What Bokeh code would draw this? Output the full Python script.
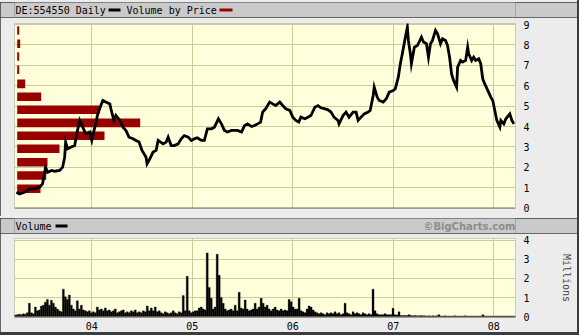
import numpy as np
from bokeh.plotting import figure
from bokeh.models import Range1d, FixedTicker, Span, Spacer, Label
from bokeh.layouts import column
from bokeh.embed import file_html
from bokeh.resources import INLINE

# ---------------- data ----------------
price_year = [2003.25, 2003.28, 2003.33, 2003.38, 2003.43, 2003.48, 2003.51, 2003.54, 2003.56, 2003.60,
              2003.63, 2003.68, 2003.71, 2003.73, 2003.74, 2003.76, 2003.79, 2003.83, 2003.85, 2003.88,
              2003.91, 2003.94, 2003.98, 2004.00, 2004.03, 2004.06, 2004.09, 2004.11, 2004.14, 2004.18,
              2004.19, 2004.22, 2004.24, 2004.28, 2004.31, 2004.34, 2004.37, 2004.41, 2004.44, 2004.47,
              2004.50, 2004.54, 2004.55, 2004.57, 2004.61, 2004.64, 2004.66, 2004.71, 2004.74, 2004.76,
              2004.79, 2004.82, 2004.86, 2004.89, 2004.92, 2004.96, 2004.99, 2005.02, 2005.05, 2005.09,
              2005.12, 2005.15, 2005.19, 2005.22, 2005.26, 2005.29, 2005.32, 2005.35, 2005.39, 2005.42,
              2005.45, 2005.49, 2005.52, 2005.55, 2005.59, 2005.62, 2005.65, 2005.68, 2005.70, 2005.73,
              2005.77, 2005.80, 2005.83, 2005.87, 2005.90, 2005.93, 2005.97, 2006.00, 2006.03, 2006.06,
              2006.08, 2006.12, 2006.15, 2006.18, 2006.22, 2006.25, 2006.28, 2006.32, 2006.35, 2006.38,
              2006.41, 2006.45, 2006.46, 2006.50, 2006.53, 2006.56, 2006.60, 2006.63, 2006.65, 2006.68,
              2006.71, 2006.75, 2006.77, 2006.80, 2006.81, 2006.84, 2006.86, 2006.90, 2006.93, 2006.96,
              2007.00, 2007.02, 2007.05, 2007.07, 2007.09, 2007.12, 2007.14, 2007.15, 2007.17, 2007.18,
              2007.21, 2007.24, 2007.28, 2007.30, 2007.33, 2007.35, 2007.37, 2007.39, 2007.42, 2007.44,
              2007.47, 2007.49, 2007.52, 2007.54, 2007.56, 2007.58, 2007.60, 2007.63, 2007.64, 2007.67,
              2007.69, 2007.72, 2007.74, 2007.75, 2007.78, 2007.80, 2007.82, 2007.85, 2007.87, 2007.89,
              2007.91, 2007.94, 2007.97, 2007.99, 2008.01, 2008.03, 2008.06, 2008.07, 2008.10, 2008.12,
              2008.16, 2008.18, 2008.20]
price_close = [0.78, 0.70, 0.78, 0.95, 0.95, 1.03, 1.19, 2.01, 1.76, 1.85,
               1.81, 1.85, 2.01, 2.50, 3.24, 2.91, 2.99, 3.07, 3.64, 4.30,
               3.97, 3.64, 3.73, 3.32, 3.97, 4.62, 5.03, 5.28, 5.20, 5.11,
               4.87, 4.30, 4.54, 4.30, 3.97, 3.81, 3.48, 3.40, 3.32, 3.24,
               2.83, 2.50, 2.17, 2.34, 2.75, 2.83, 3.32, 3.15, 3.24, 3.48,
               3.07, 3.07, 3.15, 3.40, 3.56, 3.48, 3.32, 3.40, 3.45, 3.32,
               3.32, 3.89, 3.89, 3.97, 4.38, 4.13, 3.81, 3.73, 3.81, 3.81,
               3.81, 3.73, 4.05, 4.13, 4.00, 4.05, 4.13, 4.22, 4.71, 4.87,
               5.20, 5.11, 5.03, 5.20, 5.03, 4.87, 4.79, 4.46, 4.30, 4.22,
               4.46, 4.38, 4.46, 4.54, 4.95, 5.03, 4.92, 4.87, 4.82, 4.71,
               4.46, 4.30, 4.13, 4.54, 4.71, 4.46, 4.71, 4.71, 4.30, 4.46,
               4.62, 4.71, 4.79, 5.52, 5.93, 5.44, 5.28, 5.20, 5.36, 5.69,
               5.77, 5.85, 6.42, 7.08, 7.57, 8.38, 8.87, 8.22, 7.57, 7.08,
               7.89, 7.97, 8.38, 8.14, 8.06, 7.40, 8.06, 8.22, 8.71, 8.55,
               8.06, 8.30, 8.22, 7.97, 7.40, 6.58, 6.26, 5.93, 6.91, 7.24,
               7.16, 7.24, 7.89, 7.57, 7.24, 7.40, 7.24, 7.32, 7.08, 6.34,
               6.09, 5.77, 5.44, 5.28, 4.79, 4.30, 3.97, 4.30, 4.13, 4.38,
               4.62, 4.30, 4.13]

# volume by price: price-band centres and relative volume
vbp_price = [0.95, 1.60, 2.25, 2.91, 3.55, 4.18, 4.82, 5.46, 6.09, 6.78, 7.43, 8.06, 8.71]
vbp_volume = [233, 290, 303, 423, 873, 1230, 823, 240, 80, 20, 20, 30, 20]

# weekly-ish volume, millions of shares
volume_millions = [
    0.08, 0.1, 0.12, 0.1, 0.15, 0.12, 0.2, 0.7, 0.2, 0.15,
    0.5, 0.3, 0.35, 0.55, 0.6, 0.75, 0.9, 0.6, 0.85, 0.7,
    0.5, 0.4, 0.3, 0.25, 1.44, 1.04, 0.9, 1.13, 0.6, 0.4,
    0.3, 0.83, 0.4, 0.6, 0.35, 0.3, 0.25, 0.3, 0.2, 0.25,
    0.2, 0.5, 0.35, 0.4, 0.3, 0.45, 0.3, 0.35, 0.25, 0.3,
    0.4, 0.2, 0.25, 0.3, 0.35, 0.2, 0.25, 0.2, 0.3, 0.25,
    0.35, 0.2, 0.25, 0.2, 0.3, 0.25, 0.55, 0.3, 0.45, 0.3,
    0.5, 0.25, 0.3, 0.2, 0.15, 0.25, 0.2, 0.15, 0.2, 0.3,
    0.2, 0.15, 0.25, 0.2, 1.1, 0.3, 2.12, 0.3, 0.2, 0.25,
    0.3, 0.3, 0.45, 0.5, 0.4, 0.35, 3.34, 1.53, 0.96, 0.4,
    0.5, 3.27, 2.17, 1.0, 0.7, 0.4, 0.3, 0.35, 0.4, 0.3,
    0.6, 0.3, 1.27, 0.45, 0.4, 0.87, 0.4, 0.3, 0.35, 0.4,
    0.7, 0.4, 0.5, 0.96, 0.7, 0.5, 0.6, 0.4, 0.3, 0.4,
    0.5, 0.35, 0.3, 0.4, 0.3, 0.35, 0.3, 0.9, 0.78, 0.5,
    0.4, 0.4, 0.96, 0.3, 0.25, 0.2, 0.4, 0.56, 0.5, 0.35,
    0.25, 0.2, 0.15, 0.2, 0.15, 0.1, 0.2, 0.15, 0.2, 0.15,
    0.25, 0.15, 0.2, 0.1, 0.15, 0.7, 0.2, 0.15, 0.1, 0.25,
    0.15, 0.2, 0.15, 0.1, 0.2, 0.15, 0.1, 0.15, 0.1, 1.44,
    0.3, 0.15, 0.1, 0.1, 0.1, 0.15, 0.1, 0.1, 0.1, 0.43,
    0.1, 0.08, 0.25, 0.06, 0.05, 0.06, 0.05, 0.1, 0.05, 0.04,
    0.05, 0.04, 0.04, 0.05, 0.04, 0.04, 0.03, 0.04, 0.03, 0.04,
    0.03, 0.04, 0.1, 0.03, 0.03, 0.04, 0.03, 0.03, 0.03, 0.03,
    0.04, 0.03, 0.03, 0.03, 0.03, 0.04, 0.03, 0.03, 0.03, 0.03,
    0.03, 0.03, 0.03, 0.03, 0.1, 0.03, 0.03, 0.03, 0.03, 0.03,
    0.03, 0.03, 0.03, 0.03, 0.03, 0.03, 0.03, 0.03, 0.03, 0.03,
    0.03]
volume_first, volume_last = 2003.24, 2008.21

year_ticks = [2004, 2005, 2006, 2007, 2008]
year_labels = ["04", "05", "06", "07", "08"]
price_ticks = [0, 1, 2, 3, 4, 5, 6, 7, 8, 9]
volume_ticks = [0, 1, 2, 3, 4]

title_text = "DE:554550 Daily"
vbp_text = "Volume by Price"
date_text = "3/18/08"
volume_text = "Volume"
credit_text = "\u00a9BigCharts.com"
volume_unit = "Millions"

# ---------------- style ----------------
W = 577
BG = "#ECECEC"
BAND = "#CACACA"
PLOT_BG = "#FFFFDC"
GRID = "#CDCD9C"
RED = "#990000"
MONO = "DejaVu Sans Mono"
FS = "10px"
X_RANGE = (2003.231, 2008.216)
LEFT, RIGHT = 14, 62          # frame borders shared by every panel
FRAME_R = W - RIGHT           # 515


def band_figure(height):
    f = figure(width=W, height=height, output_backend="svg", toolbar_location=None,
               x_range=Range1d(LEFT, FRAME_R), y_range=Range1d(0, 15),
               x_axis_location=None, y_axis_location=None,
               min_border_left=LEFT, min_border_right=RIGHT, min_border_top=0, min_border_bottom=0,
               background_fill_color=BAND, border_fill_color=BAND, outline_line_color=None)
    f.xgrid.visible = False
    f.ygrid.visible = False
    return f


def head_label(f, x, text, align="left", color="black", font=MONO, style="normal"):
    f.add_layout(Label(x=x, y=7.5, text=text, text_font=font, text_font_size=FS,
                       text_font_style=style, text_baseline="middle", text_align=align,
                       text_color=color))


def style_axis(ax, standoff):
    ax.axis_line_color = None
    ax.major_tick_out = 0
    ax.major_tick_in = 0
    ax.minor_tick_out = 0
    ax.minor_tick_in = 0
    ax.major_label_text_font = MONO
    ax.major_label_text_font_size = FS
    ax.major_label_text_color = "black"
    ax.major_label_standoff = standoff


def gap(h):
    return Spacer(width=W, height=h, styles={"background-color": BG})


# ---- header band ----
h1 = band_figure(15)
head_label(h1, 15, title_text)
h1.quad(left=[108], right=[120], bottom=[6], top=[9], fill_color="black", line_color=None)
head_label(h1, 126, vbp_text)
h1.quad(left=[219], right=[232], bottom=[6], top=[9], fill_color=RED, line_color=None)
head_label(h1, 566, date_text, align="right")

# ---- price panel ----
p = figure(width=W, height=199, output_backend="svg", toolbar_location=None,
           x_range=Range1d(*X_RANGE), y_range=Range1d(-0.015, 9.05),
           x_axis_location=None, y_axis_location="right",
           min_border_left=LEFT, min_border_right=RIGHT, min_border_top=6, min_border_bottom=8,
           background_fill_color=PLOT_BG, border_fill_color=BG, outline_line_color=None)
p.xgrid.ticker = FixedTicker(ticks=year_ticks)
p.yaxis.ticker = FixedTicker(ticks=price_ticks)
for g in (p.xgrid[0], p.ygrid[0]):
    g.grid_line_color = GRID
    g.grid_line_width = 1
style_axis(p.yaxis[0], 8)
p.yaxis[0].major_label_text_align = "left"

p.extra_x_ranges = {"vbp": Range1d(-27, -27 + 501 * 10)}
p.hbar(y=vbp_price, left=0, right=vbp_volume, height=0.42, x_range_name="vbp",
       fill_color=RED, line_color=None)
p.line(price_year, price_close, line_color="black", line_width=2.8, line_join="miter")
p.add_layout(Span(location=-0.015, dimension="width", line_color="#6E6E6E", line_width=2))

# ---- volume header band ----
h2 = band_figure(15)
head_label(h2, 15, volume_text)
h2.quad(left=[55], right=[67], bottom=[6], top=[9], fill_color="black", line_color=None)
head_label(h2, 515, credit_text, align="right", color="#8C8C8C", font="DejaVu Sans", style="bold")

# ---- volume panel ----
v = figure(width=W, height=99, output_backend="svg", toolbar_location=None,
           x_range=Range1d(*X_RANGE), y_range=Range1d(-0.05, 4.1),
           x_axis_location="below", y_axis_location="right",
           min_border_left=LEFT, min_border_right=RIGHT, min_border_top=5, min_border_bottom=14,
           background_fill_color=PLOT_BG, border_fill_color=BG, outline_line_color=None)
v.xaxis.ticker = FixedTicker(ticks=year_ticks)
v.xaxis.major_label_overrides = {t: s for t, s in zip(year_ticks, year_labels)}
v.yaxis.ticker = FixedTicker(ticks=volume_ticks)
for g in (v.xgrid[0], v.ygrid[0]):
    g.grid_line_color = GRID
    g.grid_line_width = 1
style_axis(v.xaxis[0], 4)
ay = v.yaxis[0]
style_axis(ay, 8)
ay.major_label_text_align = "left"
ay.axis_label = volume_unit
ay.axis_label_text_font = MONO
ay.axis_label_text_font_size = FS
ay.axis_label_text_font_style = "normal"
ay.axis_label_standoff = 28
if "axis_label_orientation" in ay.properties():
    ay.axis_label_orientation = "vertical"   # read bottom-to-top

vol_x = np.linspace(volume_first, volume_last, len(volume_millions))
step = (volume_last - volume_first) / (len(volume_millions) - 1)
v.vbar(x=vol_x, top=volume_millions, bottom=0, width=step,
       fill_color="black", line_color="black", line_width=0.3)
v.add_layout(Span(location=-0.05, dimension="width", line_color="#6E6E6E", line_width=2))

layout = column(gap(2), h1, p, gap(2), h2, v, spacing=0, width=579, height=335,
                styles={"background-color": "#3C3C3C"})

open("out.html", "w").write(file_html(layout, INLINE))
